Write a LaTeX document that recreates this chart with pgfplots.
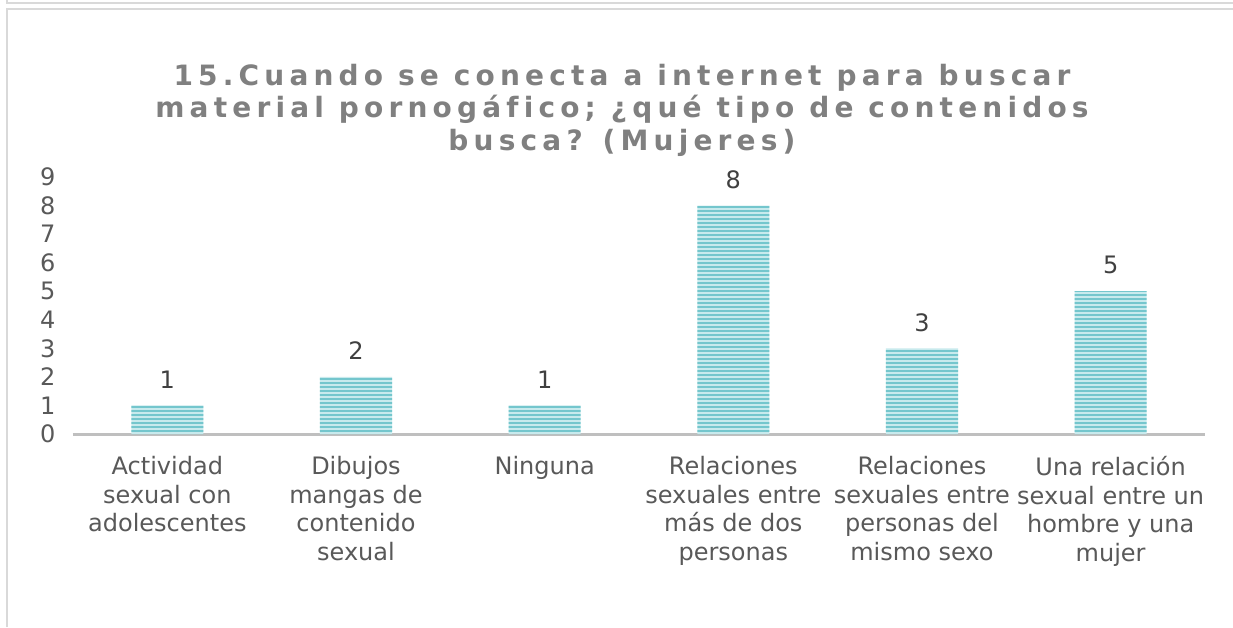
\documentclass[border=0pt]{standalone}
\usepackage{pgfplots}
\pgfplotsset{compat=1.18}
\usepackage{fontspec}
\setmainfont{DejaVu Sans}
\usetikzlibrary{patterns.meta}

\definecolor{barteal}{RGB}{72,180,188}
\definecolor{barlight}{RGB}{200,234,237}
\definecolor{axisgray}{RGB}{191,191,191}
\definecolor{labelgray}{RGB}{89,89,89}
\definecolor{valgray}{RGB}{64,64,64}
\definecolor{titlegray}{RGB}{128,128,128}
\definecolor{framegray}{RGB}{217,217,217}

% horizontal stripes every 4pt
\tikzdeclarepattern{
  name=hstripes, type=uncolored,
  bounding box={(0pt,0pt) and (1pt,4pt)},
  tile size={(1pt,4pt)},
  code={\fill (0pt,0pt) rectangle (1pt,2.4pt);}
}

\begin{document}
\begin{tikzpicture}[x=1pt,y=1pt]
\useasboundingbox (0,0) rectangle (1233,627);
\fill[white] (0,0) rectangle (1233,627);
\draw[framegray, line width=2pt] (7,627) -- (7,624) -- (1233,624);
\draw[framegray, line width=2pt] (7,0) -- (7,618) -- (1233,618);

\node[text=titlegray, align=center,
      font=\fontsize{28}{32.5}\selectfont\bfseries\addfontfeature{LetterSpace=18.5,Ligatures=NoCommon}]
  at (622,517) {15.Cuando se conecta a internet para buscar\\
                material pornogáfico; ¿qué tipo de contenidos\\
                busca? (Mujeres)};

\begin{axis}[
    at={(73pt,193pt)}, anchor=south west,
    scale only axis,
    width=1132pt, height=257pt,
    xmin=-0.5, xmax=5.5,
    ymin=0, ymax=9,
    ybar, bar width=0.382,
    axis x line*=bottom, axis y line*=left,
    x axis line style={draw=axisgray, line width=3pt, -},
    y axis line style={draw=none},
    major tick length=0pt,
    ytick={0,...,9},
    xtick={0,...,5},
    xticklabels={
      {Actividad\\sexual con\\adolescentes},
      {Dibujos\\mangas de\\contenido\\sexual},
      {Ninguna},
      {Relaciones\\sexuales entre\\más de dos\\personas},
      {Relaciones\\sexuales entre\\personas del\\mismo sexo},
      {Una relación\\sexual entre un\\hombre y una\\mujer}},
    /pgf/number format/assume math mode=true,
    every tick label/.append style={font=\fontsize{24}{28.5}\selectfont},
    xticklabel style={align=center, text=labelgray, anchor=north, yshift=-19pt},
    yticklabel style={text=labelgray, anchor=east, xshift=-14pt},
    nodes near coords,
    every node near coord/.append style={font=\fontsize{24}{28}\selectfont,
      text=valgray, anchor=center, yshift=26pt},
]
\addplot[draw=none, fill=barlight, postaction={pattern=hstripes, pattern color=barteal}]
  coordinates {(0,1) (1,2) (2,1) (3,8) (4,3) (5,5)};
\end{axis}
\end{tikzpicture}
\end{document}
